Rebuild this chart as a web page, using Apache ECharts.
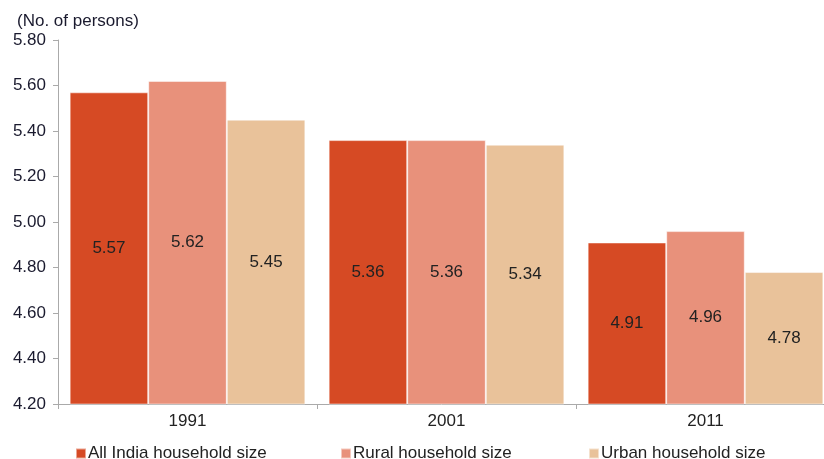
<!DOCTYPE html>
<html><head><meta charset="utf-8">
<script src="https://cdn.jsdelivr.net/npm/echarts@6/dist/echarts.min.js"></script>
<style>html,body{margin:0;padding:0;background:#fff}#c{width:824px;height:459px}</style>
</head><body><div id="c"></div>
<script>
const categories = ['1991', '2001', '2011'];
const allIndia = [5.57, 5.36, 4.91];
const rural = [5.62, 5.36, 4.96];
const urban = [5.45, 5.34, 4.78];
const seriesNames = ['All India household size', 'Rural household size', 'Urban household size'];
const colors = ['#D64A24', '#E8917B', '#E9C29A'];

const font = 'Liberation Sans, Arial, sans-serif';
const fs = 17;
const chart = echarts.init(document.getElementById('c'));
function mk(name, data, color) {
  return {
    name, type: 'bar', data, barGap: '0%', barCategoryGap: '9%',
    itemStyle: { color, borderColor: 'rgba(255,255,255,0.5)', borderWidth: 1 },
    label: { show: true, position: 'inside', color: '#222', fontSize: fs, fontFamily: font,
      formatter: p => p.value.toFixed(2) }
  };
}
function lg(i, left) {
  return {
    data: [seriesNames[i]], top: 440, left, itemWidth: 10, itemHeight: 10, icon: 'rect', itemGap: 4,
    textStyle: { fontSize: fs, color: '#222', fontFamily: font, padding: [0, 0, 0, -3] }
  };
}
chart.setOption({
  animation: false,
  title: { text: '(No. of persons)', left: 12, top: 8,
    textStyle: { fontSize: fs, fontWeight: 'normal', color: '#1a1a2e', fontFamily: font } },
  legend: [lg(0, 70), lg(1, 335), lg(2, 583)],
  grid: { left: 58, top: 40, width: 777, height: 364, outerBoundsMode: 'none', containLabel: false },
  xAxis: {
    type: 'category', data: categories,
    axisLine: { lineStyle: { color: '#aaa' } },
    axisTick: { show: true, lineStyle: { color: '#aaa' }, length: 5 },
    axisLabel: { fontSize: fs, color: '#222', fontFamily: font, margin: 9 }
  },
  yAxis: {
    type: 'value', min: 4.2, max: 5.8, interval: 0.2,
    axisLine: { show: true, lineStyle: { color: '#aaa' } },
    axisTick: { show: true, lineStyle: { color: '#aaa' }, length: 5 },
    splitLine: { show: false },
    axisLabel: { fontSize: fs, color: '#1a1a2e', fontFamily: font, margin: 12,
      formatter: v => v.toFixed(2) }
  },
  series: [mk(seriesNames[0], allIndia, colors[0]), mk(seriesNames[1], rural, colors[1]), mk(seriesNames[2], urban, colors[2])]
});
</script></body></html>
